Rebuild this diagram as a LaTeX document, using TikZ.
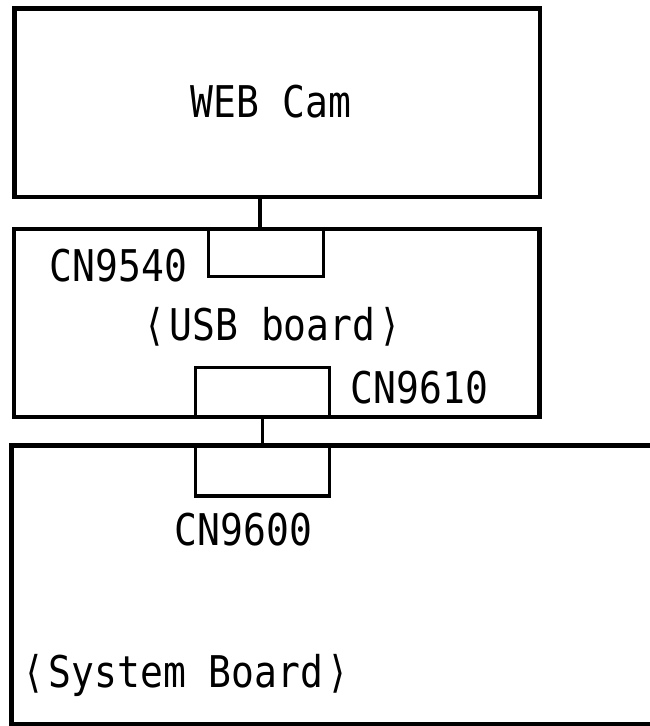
\documentclass[tikz,border=0pt]{standalone}
\usepackage{fontspec}
\setmonofont{DejaVu Sans Mono}
\newcommand{\boardfont}{\ttfamily\fontsize{38}{40}\selectfont}
\newcommand{\tall}[1]{\scalebox{1}[1.15]{#1}}
\newcommand{\lbr}{⟨\kern3pt}
\newcommand{\rbr}{\kern3pt⟩}

\begin{document}
\begin{tikzpicture}[
    x=1pt, y=-1pt,
    board/.style={rectangle,draw,line width=4.5pt,minimum width=525.5pt,inner sep=0pt},
    conn/.style={rectangle,draw,line width=3.2pt,inner sep=0pt},
    lbl/.style={inner sep=0pt,font=\boardfont}
]
\useasboundingbox (0,0) rectangle (649,726);

\node[board,minimum height=188.5pt] (W)   at (277.25,102.75) {};
\node[board,minimum height=188pt]   (U)   at (276.75,323)    {};
\node[conn,minimum width=115pt,minimum height=47.5pt] (C40) at (266,252.75)   {};
\node[conn,minimum width=134pt,minimum height=49.5pt] (C10) at (262.5,392.25) {};
\node[conn,minimum width=134pt,minimum height=50.5pt] (C00) at (262.5,470.75) {};

% system board, open to the right and bottom
\draw[line width=4.5pt] (660,445.5) -- (11.7,445.5) -- (11.7,724) -- (660,724);

\node[lbl] (tW)   at (271,102)   {\tall{WEB Cam}};
\node[lbl] (t40)  at (118.5,266) {\tall{CN9540}};
\node[lbl] (tU)   at (272.5,327) {\tall{\lbr USB board\rbr}};
\node[lbl] (t10)  at (419.5,388) {\tall{CN9610}};
\node[lbl] (t00)  at (243.5,530) {\tall{CN9600}};
\node[lbl] (tS)   at (186,675)   {\tall{\lbr System Board\rbr}};

\draw[line width=3.2pt] ([xshift=-17.25pt]W.south) -- ([xshift=-17.25pt]W.south |- U.north);
\draw[line width=3.2pt] (C10.south) -- (C00.north);
\end{tikzpicture}
\end{document}
